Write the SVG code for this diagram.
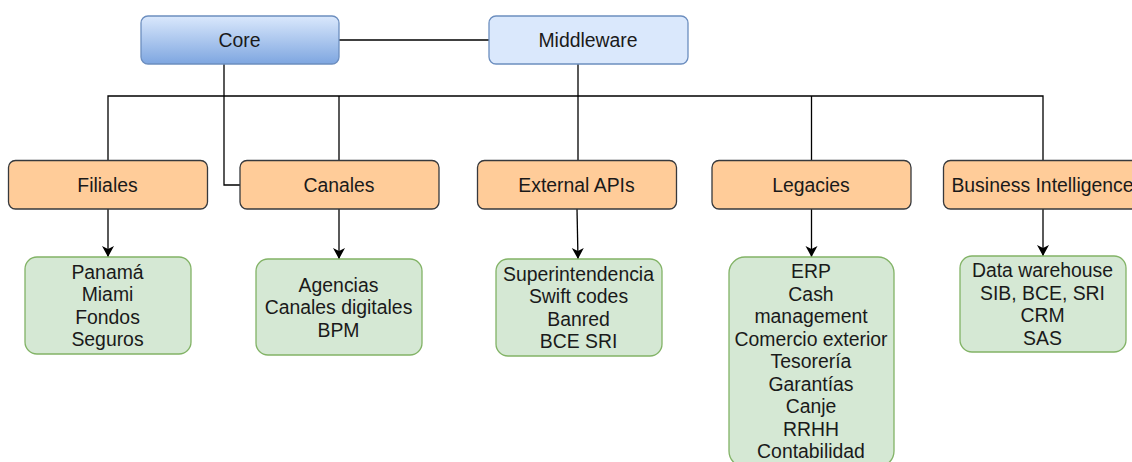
<svg xmlns="http://www.w3.org/2000/svg" width="1132" height="462" viewBox="0 0 1132 462">
  <defs>
    <linearGradient id="coreFill" x1="0" y1="0" x2="0" y2="1">
      <stop offset="0" stop-color="#dae8fc"/>
      <stop offset="1" stop-color="#7ea6e0"/>
    </linearGradient>
    <marker id="arrow" markerWidth="14" markerHeight="14" viewBox="0 0 14 14" refX="12" refY="7" orient="auto" markerUnits="userSpaceOnUse">
      <path d="M1,1 L12,7 L1,13 L4,7 Z" fill="#000"/>
    </marker>
    <style>
      text { font-family: "Liberation Sans", Arial, sans-serif; font-size: 19.4px; fill: #1a1a1a; text-anchor: middle; dominant-baseline: central; }
      .blue { stroke: #6c8ebf; stroke-width: 1.3; }
      .cat { fill: #ffcc99; stroke: #36393d; stroke-width: 1.3; }
      .item { fill: #d5e8d4; stroke: #82b366; stroke-width: 1.3; }
      .link { fill: none; stroke: #000; stroke-width: 1.3; }
      .arrow { fill: none; stroke: #000; stroke-width: 1.3; marker-end: url(#arrow); }
    </style>
  </defs>
  <rect width="1132" height="462" fill="#ffffff"/>

  <!-- connectors -->
  <g id="connectors">
    <path class="link" d="M339,40 H489"/>
    <path class="link" d="M224,64 V185 H240"/>
    <path class="link" d="M578,64 V160"/>
    <path class="link" d="M108,160 V96 H1043 V160"/>
    <path class="link" d="M339,96 V160"/>
    <path class="link" d="M811.5,96 V160"/>
    <path class="arrow" d="M108,209 V257"/>
    <path class="arrow" d="M339,209 V259"/>
    <path class="arrow" d="M577,209 L578,259"/>
    <path class="arrow" d="M811.5,209 V257"/>
    <path class="arrow" d="M1043,209 V256"/>
  </g>

  <!-- top level -->
  <g id="core">
    <rect class="blue" x="141" y="16" width="198" height="48" rx="7" fill="url(#coreFill)"/>
    <text x="239.5" y="40">Core</text>
  </g>
  <g id="middleware">
    <rect class="blue" x="489" y="16" width="199" height="48" rx="7" fill="#dae8fc"/>
    <text x="588" y="40">Middleware</text>
  </g>

  <!-- categories -->
  <g id="filiales">
    <rect class="cat" x="8.5" y="160.5" width="199" height="48.5" rx="7"/>
    <text x="107.5" y="185">Filiales</text>
  </g>
  <g id="canales">
    <rect class="cat" x="240" y="160.5" width="199" height="48.5" rx="7"/>
    <text x="339" y="185">Canales</text>
  </g>
  <g id="external-apis">
    <rect class="cat" x="477.5" y="160.5" width="199" height="48.5" rx="7"/>
    <text x="576.5" y="185">External APIs</text>
  </g>
  <g id="legacies">
    <rect class="cat" x="712" y="160.5" width="199" height="48.5" rx="7"/>
    <text x="811" y="185">Legacies</text>
  </g>
  <g id="business-intelligence">
    <rect class="cat" x="943.5" y="160.5" width="199" height="48.5" rx="7"/>
    <text x="1042.5" y="185">Business Intelligence</text>
  </g>

  <!-- item lists -->
  <g id="filiales-items">
    <rect class="item" x="25" y="257" width="166" height="97" rx="12"/>
    <text x="107.5" y="271.75">Panamá</text>
    <text x="107.5" y="294.25">Miami</text>
    <text x="107.5" y="316.75">Fondos</text>
    <text x="107.5" y="339.25">Seguros</text>
  </g>
  <g id="canales-items">
    <rect class="item" x="256" y="259" width="166" height="96" rx="12"/>
    <text x="338.5" y="284.5">Agencias</text>
    <text x="338.5" y="307">Canales digitales</text>
    <text x="338.5" y="329.5">BPM</text>
  </g>
  <g id="external-apis-items">
    <rect class="item" x="496" y="259" width="166" height="97" rx="12"/>
    <text x="578.5" y="273.75">Superintendencia</text>
    <text x="578.5" y="296.25">Swift codes</text>
    <text x="578.5" y="318.75">Banred</text>
    <text x="578.5" y="341.25">BCE SRI</text>
  </g>
  <g id="legacies-items">
    <rect class="item" x="729" y="257" width="165" height="210" rx="16"/>
    <text x="811" y="271">ERP</text>
    <text x="811" y="293.5">Cash</text>
    <text x="811" y="316">management</text>
    <text x="811" y="338.5">Comercio exterior</text>
    <text x="811" y="361">Tesorería</text>
    <text x="811" y="383.5">Garantías</text>
    <text x="811" y="406">Canje</text>
    <text x="811" y="428.5">RRHH</text>
    <text x="811" y="451">Contabilidad</text>
  </g>
  <g id="business-intelligence-items">
    <rect class="item" x="960" y="256" width="166" height="96" rx="12"/>
    <text x="1042.5" y="270.25">Data warehouse</text>
    <text x="1042.5" y="292.75">SIB, BCE, SRI</text>
    <text x="1042.5" y="315.25">CRM</text>
    <text x="1042.5" y="337.75">SAS</text>
  </g>
</svg>
